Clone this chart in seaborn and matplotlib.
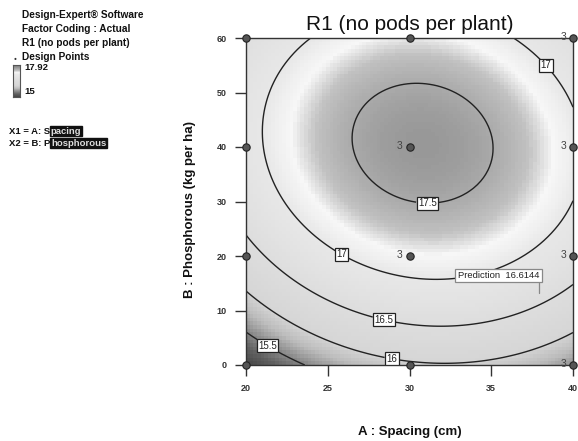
import numpy as np
import pandas as pd
import matplotlib
matplotlib.use("Agg")
import matplotlib.pyplot as plt
import seaborn as sns
from matplotlib.colors import LinearSegmentedColormap

# ---------------- data ----------------
design_A = [20, 30, 40, 20, 30, 40, 20, 30, 40, 20, 30, 40]
design_B = [0, 0, 0, 20, 20, 20, 40, 40, 40, 60, 60, 60]
replicate_labels = ["", "", "3", "", "3", "3", "", "3", "3", "", "", "3"]

# quadratic response-surface model (estimated from the contour lines)
model_max = 17.62
model_A0 = 30.8
model_B0 = 40.7
coef_AA = 0.0065
coef_BB = 0.0010
coef_AB = 0.00043

contour_levels = [15.5, 16.0, 16.5, 17.0, 17.5]
contour_label_A = [21.4, 29.0, 28.5, 26.0, 38.5, 31.1]
contour_label_B = [4.0, 2.4, 9.2, 21.1, 55.4, 30.6]

resp_low, resp_high = 15.0, 17.92
pred_A, pred_B, pred_value = 37.9, 13.2, 16.6144

x_ticks = [20, 25, 30, 35, 40]
y_ticks = [0, 10, 20, 30, 40, 50, 60]

title = "R1 (no pods per plant)"
x_label = "A : Spacing (cm)"
y_label = "B : Phosphorous (kg per ha)"
legend_lines = ["Design-Expert\u00ae Software", "Factor Coding : Actual",
                "R1 (no pods per plant)", "Design Points"]
factor_lines = [("X1 = A: S", "pacing"), ("X2 = B: P", "hosphorous")]

# ---------------- style ----------------
sns.set_style("white")
plt.rcParams["font.family"] = ["Liberation Sans", "DejaVu Sans"]

gray_nodes = [(15.0, 0.28), (15.25, 0.38), (15.5, 0.55), (15.75, 0.74),
              (16.0, 0.84), (16.5, 0.87), (17.0, 0.91), (17.2, 0.97),
              (17.35, 0.76), (17.5, 0.67), (17.62, 0.60), (17.92, 0.45)]
cmap = LinearSegmentedColormap.from_list(
    "dxgray",
    [((v - resp_low) / (resp_high - resp_low), (g, g, g)) for v, g in gray_nodes])

W, H = 578, 441
fig = plt.figure(figsize=(W / 100, H / 100), dpi=100)
ax = fig.add_axes([246 / W, 1 - 365 / H, (573 - 246) / W, (365 - 38) / H])

A = np.linspace(20, 40, 90)
B = np.linspace(0, 60, 90)
AA, BB = np.meshgrid(A, B)
dA, dB = AA - model_A0, BB - model_B0
Z = model_max - coef_AA * dA ** 2 - coef_BB * dB ** 2 - coef_AB * dA * dB

ax.imshow(Z, origin="lower", extent=(20, 40, 0, 60), aspect="auto",
          cmap=cmap, vmin=resp_low, vmax=resp_high, interpolation="nearest")
cs = ax.contour(AA, BB, Z, levels=contour_levels, colors="#222222", linewidths=1.0)
labels = ax.clabel(cs, fmt=lambda v: f"{v:g}", fontsize=7, inline=True,
                   inline_spacing=2,
                   manual=list(zip(contour_label_A, contour_label_B)))
for t in labels:
    t.set_bbox(dict(boxstyle="square,pad=0.15", fc="white", ec="#222222", lw=0.9))
    t.set_rotation(0)

df = pd.DataFrame({"A": design_A, "B": design_B, "n": replicate_labels})
sns.scatterplot(data=df, x="A", y="B", ax=ax, s=28, color="#555555",
                edgecolor="#222222", linewidth=0.8, clip_on=False, zorder=5,
                legend=False)
for a, b, n in zip(design_A, design_B, replicate_labels):
    if n:
        ax.annotate(n, (a, b), xytext=(-5, 1), textcoords="offset points",
                    ha="right", va="center", fontsize=7.5, color="#444444",
                    annotation_clip=False, zorder=6)

# prediction flag
ax.plot([pred_A, pred_A], [pred_B, pred_B + 2.4], color="#888888", lw=0.9)
ax.annotate(f"Prediction  {pred_value:.4f}", (pred_A, pred_B + 2.4),
            xytext=(0.5, 0), textcoords="offset points", ha="right", va="bottom",
            fontsize=6.8, color="#222222",
            bbox=dict(boxstyle="square,pad=0.25", fc="white", ec="#888888", lw=0.9))

ax.set_xlim(20, 40)
ax.set_ylim(0, 60)
ax.set_xlabel("")
ax.set_ylabel("")
ax.set_xticks(x_ticks)
ax.set_yticks(y_ticks)
ax.set_xticklabels([str(v) for v in x_ticks], fontsize=6.5, fontweight="bold")
ax.set_yticklabels([str(v) for v in y_ticks], fontsize=6.5, fontweight="bold")
ax.tick_params(direction="out", length=8, width=1.0, colors="#333333", pad=6,
               bottom=True, left=True)
for s in ax.spines.values():
    s.set_color("#333333")
    s.set_linewidth(1.0)

ax.set_title(title, fontsize=15, pad=6, color="#111111")
fig.text(410 / W, 1 - 432 / H, x_label, ha="center", va="center",
         fontsize=9.5, fontweight="bold", color="#111111")
fig.text(190 / W, 1 - 210 / H, y_label, ha="center", va="center", rotation=90,
         fontsize=9.5, fontweight="bold", color="#111111")

# left information panel
ys = [15, 29, 43, 57]
for txt, y in zip(legend_lines, ys):
    fig.text(22 / W, 1 - y / H, txt, ha="left", va="center", fontsize=7.3,
             fontweight="bold", color="#111111")
fig.text(15 / W, 1 - 59 / H, "\u25cf", ha="center", va="center", fontsize=3.5,
         color="#333333")
cax = fig.add_axes([13 / W, 1 - 97 / H, 7 / W, 32 / H])
cax.imshow(np.linspace(resp_low, resp_high, 64).reshape(-1, 1), origin="lower",
           aspect="auto", cmap=cmap, vmin=resp_low, vmax=resp_high)
cax.set_xticks([])
cax.set_yticks([])
for s in cax.spines.values():
    s.set_color("#555555")
fig.text(24 / W, 1 - 68 / H, f"{resp_high:g}", ha="left", va="center",
         fontsize=6.8, fontweight="bold", color="#111111")
fig.text(24 / W, 1 - 92 / H, f"{resp_low:g}", ha="left", va="center",
         fontsize=6.8, fontweight="bold", color="#111111")

renderer = fig.canvas.get_renderer()
for (head, tail), y in zip(factor_lines, [131, 143]):
    t1 = fig.text(9 / W, 1 - y / H, head, ha="left", va="center",
                  fontsize=6.8, fontweight="bold", color="#111111")
    ext = t1.get_window_extent(renderer)
    fig.text(ext.x1 / W + 0.5 / W, 1 - y / H, tail, ha="left", va="center",
             fontsize=6.8, fontweight="bold", color="#dddddd",
             bbox=dict(boxstyle="square,pad=0.05", fc="#111111", ec="#111111"))

fig.savefig("out.png", dpi=100)
